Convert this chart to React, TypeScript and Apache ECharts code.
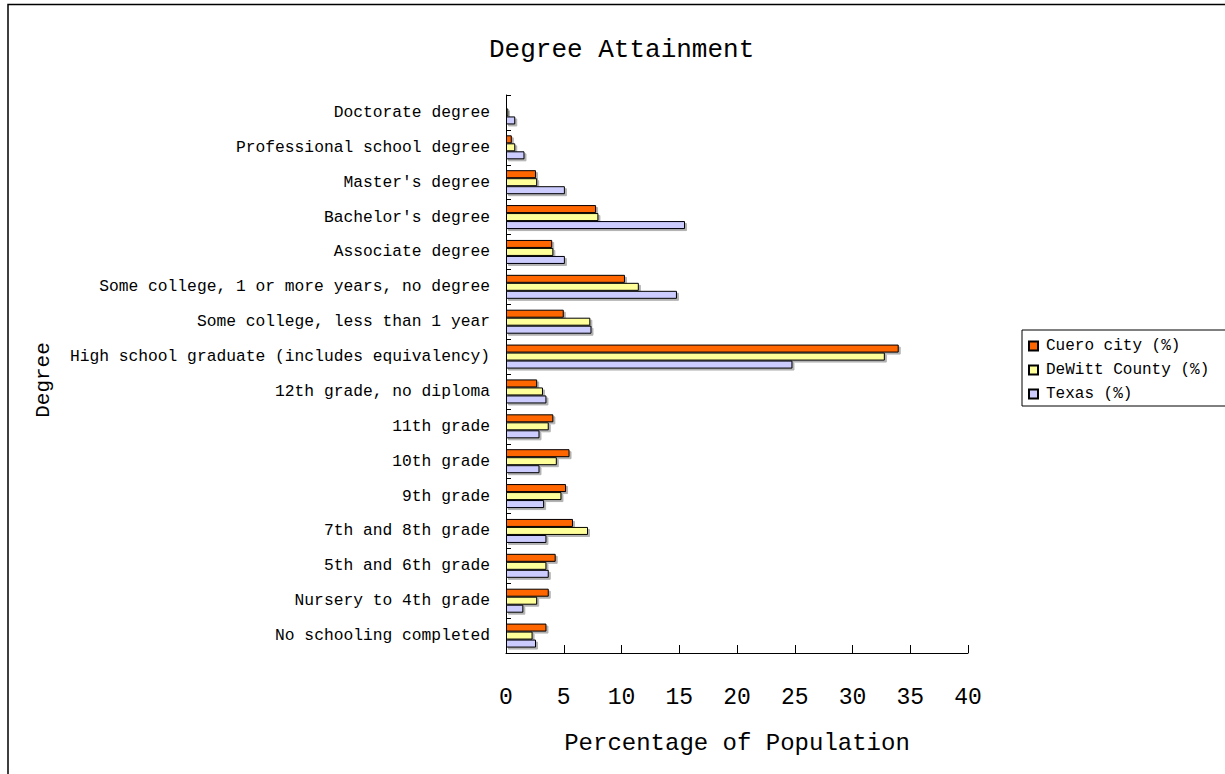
import React, { useEffect, useRef } from "react";
import * as echarts from "echarts";

const categories = [
  "Doctorate degree",
  "Professional school degree",
  "Master's degree",
  "Bachelor's degree",
  "Associate degree",
  "Some college, 1 or more years, no degree",
  "Some college, less than 1 year",
  "High school graduate (includes equivalency)",
  "12th grade, no diploma",
  "11th grade",
  "10th grade",
  "9th grade",
  "7th and 8th grade",
  "5th and 6th grade",
  "Nursery to 4th grade",
  "No schooling completed",
];

const cueroCity = [0.0, 0.5, 2.6, 7.8, 4.0, 10.3, 5.0, 34.0, 2.7, 4.1, 5.5, 5.2, 5.8, 4.3, 3.7, 3.5];
const dewittCounty = [0.2, 0.8, 2.7, 8.0, 4.1, 11.5, 7.3, 32.8, 3.2, 3.7, 4.4, 4.8, 7.1, 3.5, 2.7, 2.3];
const texas = [0.8, 1.6, 5.1, 15.5, 5.1, 14.8, 7.4, 24.8, 3.5, 2.9, 2.9, 3.3, 3.5, 3.7, 1.5, 2.6];

const xTicks = [0, 5, 10, 15, 20, 25, 30, 35, 40];

const FONT = "'Liberation Mono', 'DejaVu Sans Mono', monospace";

export default function App() {
  const ref = useRef<HTMLDivElement>(null);

  useEffect(() => {
    if (!ref.current) return;
    const chart = echarts.init(ref.current, null, { renderer: "svg" });
    const barStyle = (color: string) => ({
      color,
      borderColor: "#000",
      borderWidth: 1,
      shadowColor: "rgba(0,0,0,0.3)",
      shadowOffsetX: 2,
      shadowOffsetY: 2,
      shadowBlur: 0,
    });
    const mk = (name: string, data: number[], color: string) => ({
      name,
      type: "bar",
      data,
      barWidth: 8,
      barGap: "0%",
      itemStyle: barStyle(color),
    });
    chart.setOption({
      animation: false,
      backgroundColor: "#fff",
      textStyle: { fontFamily: FONT, color: "#000" },
      title: {
        text: "Degree Attainment",
        left: 484,
        top: 32,
        textStyle: { fontFamily: FONT, fontSize: 26, fontWeight: "normal", color: "#000" },
      },
      graphic: [
        {
          type: "rect",
          shape: { x: 8, y: 4.5, width: 1400, height: 1000 },
          style: { fill: "none", stroke: "#000", lineWidth: 1.5 },
          silent: true,
          z: -1,
        },
      ],
      legend: {
        orient: "vertical",
        left: 1022,
        top: 330,
        padding: [8, 40, 4, 6],
        itemGap: 8,
        itemWidth: 9,
        itemHeight: 9,
        icon: "rect",
        borderColor: "#000",
        borderWidth: 1,
        textStyle: { fontFamily: FONT, fontSize: 16, color: "#000", padding: [0, 0, 0, 3] },
      },
      grid: { left: 506, right: 257, top: 95, bottom: 121, containLabel: false },
      xAxis: {
        type: "value",
        min: 0,
        max: 40,
        interval: 5,
        name: "Percentage of Population",
        nameLocation: "middle",
        nameGap: 78,
        nameTextStyle: { fontFamily: FONT, fontSize: 24, color: "#000" },
        axisLine: { show: true, lineStyle: { color: "#000", width: 1 } },
        axisTick: { show: true, inside: true, length: 8, lineStyle: { color: "#000" } },
        axisLabel: {
          margin: 33,
          fontFamily: FONT,
          fontSize: 23,
          color: "#000",
          formatter: (v: number) => (xTicks.includes(v) ? String(v) : ""),
        },
        splitLine: { show: false },
      },
      yAxis: {
        type: "category",
        data: categories,
        inverse: true,
        name: "Degree",
        nameLocation: "middle",
        nameGap: 452,
        nameTextStyle: { fontFamily: FONT, fontSize: 21, color: "#000", padding: [0, 12, 0, 0] },
        axisLine: { show: true, lineStyle: { color: "#000", width: 1 } },
        axisTick: { show: true, inside: true, length: 5, lineStyle: { color: "#000" } },
        axisLabel: { margin: 16, fontFamily: FONT, fontSize: 16.3, color: "#000" },
        splitLine: { show: false },
      },
      series: [
        mk("Cuero city (%)", cueroCity, "#FF6600"),
        mk("DeWitt County (%)", dewittCounty, "#FFFF99"),
        mk("Texas (%)", texas, "#CCCCFF"),
      ],
    });
    return () => chart.dispose();
  }, []);

  return (
    <div
      ref={ref}
      style={{ position: "absolute", left: 0, top: 0, width: 1225, height: 774, overflow: "hidden" }}
    />
  );
}
